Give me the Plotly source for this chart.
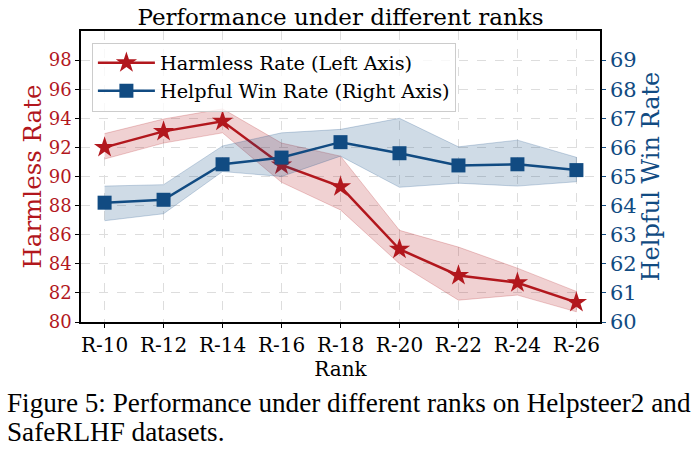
import plotly.graph_objects as go

ranks = ["R-10", "R-12", "R-14", "R-16", "R-18", "R-20", "R-22", "R-24", "R-26"]
harmless = [92.0, 93.1, 93.8, 90.8, 89.3, 85.0, 83.2, 82.7, 81.35]
harmless_hi = [92.95, 93.95, 94.65, 92.3, 91.4, 86.3, 85.15, 83.7, 82.1]
harmless_lo = [91.2, 92.3, 93.0, 89.6, 87.7, 84.0, 81.5, 81.85, 80.7]
helpful = [64.1, 64.2, 65.42, 65.65, 66.18, 65.8, 65.38, 65.42, 65.22]
helpful_hi = [64.67, 64.72, 66.05, 66.5, 66.62, 67.0, 66.02, 66.25, 65.66]
helpful_lo = [63.48, 63.72, 65.17, 65.0, 65.7, 64.63, 64.77, 64.67, 64.82]
left_ticks = [80, 82, 84, 86, 88, 90, 92, 94, 96, 98]
right_ticks = [60, 61, 62, 63, 64, 65, 66, 67, 68, 69]

RED = "#B2171D"
BLUE = "#114B82"
FONT = "DejaVu Serif"

idx = list(range(len(ranks)))
fig = go.Figure()

fig.add_trace(go.Scatter(
    x=idx + idx[::-1], y=harmless_hi + harmless_lo[::-1], mode="lines",
    fill="toself", fillcolor="rgba(178,23,29,0.2)",
    line=dict(color="rgba(178,23,29,0.22)", width=1),
    showlegend=False, hoverinfo="skip", yaxis="y"))
fig.add_trace(go.Scatter(
    x=idx, y=harmless, mode="lines+markers", name="Harmless Rate (Left Axis)",
    line=dict(color=RED, width=2.5),
    marker=dict(symbol="star", size=16, color=RED), yaxis="y"))
fig.add_trace(go.Scatter(
    x=idx + idx[::-1], y=helpful_hi + helpful_lo[::-1], mode="lines",
    fill="toself", fillcolor="rgba(17,75,130,0.2)",
    line=dict(color="rgba(17,75,130,0.22)", width=1),
    showlegend=False, hoverinfo="skip", yaxis="y2"))
fig.add_trace(go.Scatter(
    x=idx, y=helpful, mode="lines+markers", name="Helpful Win Rate (Right Axis)",
    line=dict(color=BLUE, width=2.5),
    marker=dict(symbol="square", size=14, color=BLUE), yaxis="y2"))

fig.update_layout(
    width=696, height=449,
    margin=dict(l=81, r=96, t=31, b=127, autoexpand=False),
    plot_bgcolor="white", paper_bgcolor="white",
    font=dict(family=FONT, color="black"),
    title=dict(text="Performance under different ranks", x=0.5, xref="paper", xanchor="center",
               y=0.962, yref="container", yanchor="middle",
               font=dict(size=23, family=FONT, color="black")),
    xaxis=dict(range=[-0.4, 8.4], tickvals=idx, ticktext=ranks, automargin=False,
               tickfont=dict(size=20, family=FONT, color="black"),
               title=dict(text="Rank", font=dict(size=20, family=FONT, color="black"), standoff=4),
               showline=True, linecolor="black", linewidth=1.5, mirror=True,
               ticks="outside", ticklen=4, tickcolor="black",
               showgrid=True, gridcolor="#dddddd", griddash="dash", gridwidth=1,
               zeroline=False),
    yaxis=dict(range=[80, 100], tickvals=left_ticks, automargin=False,
               tickfont=dict(size=18, family=FONT, color=RED),
               title=dict(text="Harmless Rate", font=dict(size=24.5, family=FONT, color=RED), standoff=0),
               showline=True, linecolor="black", linewidth=1.5,
               ticks="outside", ticklen=4, tickcolor="black",
               showgrid=True, gridcolor="#dddddd", griddash="dash", gridwidth=1,
               zeroline=False),
    yaxis2=dict(range=[60, 70], tickvals=right_ticks, overlaying="y", side="right", automargin=False,
                tickfont=dict(size=21, family=FONT, color=BLUE),
                title=dict(text="Helpful Win Rate", font=dict(size=24, family=FONT, color=BLUE), standoff=6),
                showline=True, linecolor="black", linewidth=1.5,
                ticks="outside", ticklen=4, tickcolor=BLUE,
                showgrid=False, zeroline=False),
    legend=dict(x=0.021, y=0.96, xanchor="left", yanchor="top",
                bgcolor="rgba(255,255,255,0.8)", bordercolor="#cccccc", borderwidth=1,
                font=dict(size=19.3, family=FONT, color="black"),
                itemwidth=57, tracegroupgap=2),
    annotations=[
        dict(text="Figure 5: Performance under different ranks on Helpsteer2 and",
             xref="paper", yref="paper", x=-0.146, y=-0.278, xanchor="left", yanchor="middle",
             showarrow=False, font=dict(size=27.2, family="Liberation Serif", color="black")),
        dict(text="SafeRLHF datasets.",
             xref="paper", yref="paper", x=-0.146, y=-0.378, xanchor="left", yanchor="middle",
             showarrow=False, font=dict(size=27.2, family="Liberation Serif", color="black")),
    ],
)

fig.write_html("out.html", config={"displayModeBar": False},
               post_script="document.body.style.margin='0';")
